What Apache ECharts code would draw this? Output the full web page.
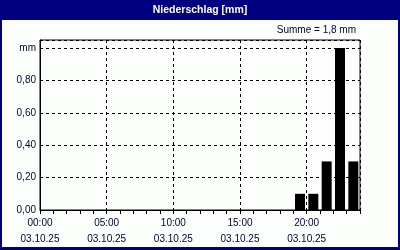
<!DOCTYPE html>
<html>
<head>
<meta charset="utf-8">
<script src="https://cdn.jsdelivr.net/npm/echarts@6/dist/echarts.min.js"></script>
<style>
html,body{margin:0;padding:0;background:#000080;}
#c{width:400px;height:250px;}
</style>
</head>
<body>
<div id="c"></div>
<script>
const titleText = 'Niederschlag [mm]';
const sumText = 'Summe = 1,8 mm';
const dateLabel = '03.10.25';
const unitLabel = 'mm';
const hours = [19, 20, 21, 22, 23];
const values = [0.1, 0.1, 0.3, 1.0, 0.3];
const labelHours = [0, 5, 10, 15, 20];

const font = 'Liberation Sans';
const txt = '#000038';
const chart = echarts.init(document.getElementById('c'), null, {renderer: 'canvas'});

function pad(n){ return (n < 10 ? '0' : '') + n; }

chart.setOption({
  animation: false,
  backgroundColor: '#000080',
  graphic: [
    {type: 'rect', shape: {x: 2, y: 20, width: 396, height: 227}, style: {fill: '#fcfefc'}, z: -10},
    {type: 'text', x: 200, y: 10, style: {text: titleText, fill: '#ffffff', font: 'bold 10.5px ' + font, textAlign: 'center', textVerticalAlign: 'middle'}},
    {type: 'text', x: 356, y: 30, style: {text: sumText, fill: txt, font: '10px ' + font, textAlign: 'right', textVerticalAlign: 'middle'}}
  ],
  grid: {left: 40, top: 40, width: 320, height: 170, show: true, borderColor: '#000', borderWidth: 1, backgroundColor: 'transparent'},
  xAxis: [
    {
      type: 'value', min: 0, max: 24, interval: 1, position: 'bottom',
      axisLine: {show: true, lineStyle: {color: '#000', width: 1}},
      axisTick: {show: true, length: 4, inside: false, lineStyle: {color: '#000'}},
      axisLabel: {show: false},
      splitLine: {show: false}
    },
    {
      type: 'value', min: 0, max: 24, interval: 5, position: 'bottom',
      axisLine: {show: false},
      axisTick: {show: false},
      axisLabel: {
        show: true, margin: 5, color: txt, fontFamily: font, fontSize: 10, lineHeight: 16,
        showMaxLabel: false,
        formatter: function (v) {
          if (labelHours.indexOf(v) < 0) return '';
          return pad(v) + ':00\n' + dateLabel;
        }
      },
      splitLine: {show: true, lineStyle: {color: '#000', type: [3, 3], width: 1}}
    }
  ],
  yAxis: {
    type: 'value', min: 0, max: 1.05, interval: 0.2,
    axisLine: {show: true, lineStyle: {color: '#000'}},
    axisTick: {show: false},
    axisLabel: {
      show: true, margin: 4, color: txt, fontFamily: font, fontSize: 10, showMaxLabel: false,
      formatter: function (v) {
        if (Math.abs(v - 1) < 1e-9) return unitLabel;
        if (v > 1.01) return '';
        return v.toFixed(2).replace('.', ',');
      }
    },
    splitLine: {show: true, lineStyle: {color: '#000', type: [3, 3], width: 1}}
  },
  series: [{
    type: 'bar',
    xAxisIndex: 0,
    barWidth: 10,
    itemStyle: {color: '#000'},
    data: hours.map(function (h, i) { return [h + 0.5, values[i]]; })
  }]
});
</script>
</body>
</html>
